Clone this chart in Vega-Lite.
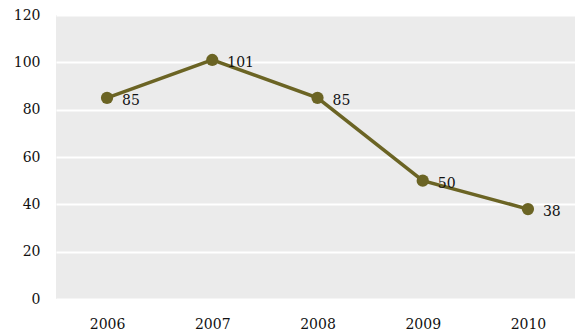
{
  "$schema": "https://vega.github.io/schema/vega-lite/v6.json",
  "autosize": "none",
  "padding": {"left": 56, "top": 15, "right": 0, "bottom": 37},
  "width": 523,
  "height": 284,
  "background": "white",
  "config": {
    "view": {"fill": "#EBEBEB", "stroke": null},
    "font": "DejaVu Serif"
  },
  "data": {
    "values": [
      {"year": "2006", "value": 85},
      {"year": "2007", "value": 101},
      {"year": "2008", "value": 85},
      {"year": "2009", "value": 50},
      {"year": "2010", "value": 38}
    ]
  },
  "encoding": {
    "x": {
      "field": "year", "type": "ordinal",
      "scale": {"type": "point", "padding": 0.485},
      "axis": {"title": null, "labelAngle": 0, "ticks": false, "domain": false, "grid": false,
               "labelPadding": 18, "labelFont": "DejaVu Serif", "labelFontSize": 14, "labelColor": "#111"}
    },
    "y": {
      "field": "value", "type": "quantitative",
      "scale": {"domain": [0, 120], "nice": false},
      "axis": {"title": null, "values": [0, 20, 40, 60, 80, 100, 120], "ticks": false, "domain": false,
               "gridColor": "white", "gridWidth": 2, "labelPadding": 16,
               "labelFont": "DejaVu Serif", "labelFontSize": 14, "labelColor": "#111"}
    }
  },
  "layer": [
    {"mark": {"type": "line", "color": "#6B6424", "strokeWidth": 3.5}},
    {"mark": {"type": "circle", "color": "#6B6424", "opacity": 1, "size": 150}},
    {"mark": {"type": "text", "align": "left", "baseline": "middle", "dx": 15, "dy": 3, "fontSize": 14, "color": "#111"},
     "encoding": {"text": {"field": "value"}}}
  ]
}
